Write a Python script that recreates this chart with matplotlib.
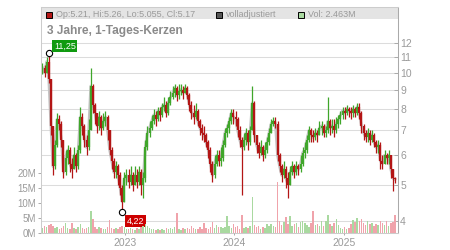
import numpy as np
import pandas as pd
import matplotlib
matplotlib.use("Agg")
import matplotlib.pyplot as plt
import matplotlib.dates as mdates
from matplotlib.patches import Rectangle
from matplotlib.ticker import NullLocator, FuncFormatter

plt.rcParams['font.family'] = ['Liberation Sans', 'DejaVu Sans']

# ---------------- data (weekly candles) ----------------
week_start = "2022-04-01"
first_open = 10.0

close = [10.3, 10.0, 10.7, 9.6, 7.2, 5.6, 6.4, 7.5, 7.3, 6.6,
         5.4, 5.9, 6.2, 5.7, 5.5, 6.0, 5.6, 6.2, 7.6, 7.2,
         6.6, 6.3, 7.0, 9.2, 8.2, 7.8, 7.2, 7.6, 7.1, 7.4,
         7.6, 7.0, 6.2, 5.8, 5.4, 5.6, 5.3, 4.9, 4.5, 5.2,
         5.3, 5.1, 5.3, 5.0, 5.3, 5.1, 5.4, 5.0, 5.2, 6.3,
         6.9, 7.1, 7.4, 7.7, 7.5, 7.9, 7.7, 8.1, 8.2, 7.8,
         8.3, 8.6, 8.8, 9.1, 8.7, 8.9, 9.0, 8.8, 9.1, 8.7,
         8.2, 7.8, 7.6, 7.9, 7.4, 7.1, 6.9, 6.8, 6.5, 6.2,
         5.7, 5.3, 5.7, 6.0, 5.8, 5.9, 6.4, 6.9, 7.1, 7.4,
         7.8, 7.6, 7.5, 7.0, 6.6, 6.3, 6.6, 6.9, 6.5, 7.0,
         8.3, 6.8, 6.4, 6.1, 6.3, 6.0, 6.2, 6.5, 6.9, 7.3,
         7.4, 7.3, 6.0, 5.6, 5.3, 5.5, 5.2, 5.0, 5.4, 5.6,
         5.4, 5.6, 5.5, 5.7, 6.1, 6.2, 6.6, 7.0, 6.8, 6.7,
         6.9, 6.8, 7.1, 7.2, 6.9, 7.0, 7.4, 7.1, 7.2, 7.0,
         7.3, 7.5, 7.7, 7.9, 7.8, 8.0, 7.9, 7.8, 8.0, 7.8,
         8.1, 7.8, 7.2, 6.9, 6.7, 6.9, 6.6, 6.8, 6.5, 6.3,
         6.4, 5.8, 5.7, 6.0, 5.9, 6.0, 5.5, 5.21, 5.17]

high = [10.6, 10.5, 11.0, 11.25, 9.6, 7.2, 6.6, 7.8, 7.7, 7.4,
        6.6, 6.2, 6.4, 6.3, 5.9, 6.3, 6.1, 6.4, 8.1, 7.8,
        7.3, 6.8, 7.5, 10.3, 9.3, 8.3, 7.8, 7.9, 7.7, 7.8,
        7.9, 7.7, 7.0, 6.3, 5.9, 5.8, 5.7, 5.4, 5.0, 5.4,
        5.5, 5.5, 5.6, 5.4, 5.6, 5.5, 5.6, 5.5, 5.4, 6.6,
        7.2, 7.4, 7.7, 8.0, 7.9, 8.1, 8.1, 8.3, 8.6, 8.4,
        8.6, 8.9, 9.2, 9.3, 9.2, 9.3, 9.3, 9.2, 9.3, 9.2,
        8.8, 8.4, 8.2, 8.3, 8.0, 7.5, 7.3, 7.2, 6.9, 6.6,
        6.3, 5.8, 6.0, 6.2, 6.2, 6.3, 6.6, 7.1, 7.3, 7.6,
        8.0, 8.0, 7.9, 7.6, 7.2, 6.7, 6.9, 7.1, 7.0, 7.2,
        9.2, 8.4, 6.8, 6.5, 6.6, 6.4, 6.5, 6.7, 7.1, 7.5,
        7.6, 7.6, 7.4, 6.1, 5.7, 5.8, 5.6, 5.4, 5.6, 5.8,
        5.7, 5.8, 5.7, 6.0, 6.3, 6.5, 6.8, 7.2, 7.1, 7.0,
        7.1, 7.0, 7.4, 7.4, 7.3, 7.2, 8.6, 7.5, 7.5, 7.5,
        7.6, 7.7, 7.9, 8.1, 8.1, 8.2, 8.1, 8.1, 8.2, 8.1,
        8.3, 8.3, 7.9, 7.3, 7.0, 7.1, 7.0, 7.0, 6.9, 6.6,
        6.6, 6.5, 6.0, 6.2, 6.1, 6.2, 6.0, 5.5, 5.26]

low = [9.9, 9.7, 10.0, 9.4, 6.8, 5.3, 5.5, 6.3, 7.0, 6.3,
       5.2, 5.3, 5.7, 5.4, 5.2, 5.5, 5.4, 5.5, 6.1, 6.8,
       6.3, 6.0, 6.2, 7.0, 7.8, 7.3, 6.9, 7.0, 6.8, 7.0,
       7.2, 6.6, 6.0, 5.5, 5.2, 5.2, 5.0, 4.7, 4.22, 4.5,
       5.0, 4.9, 5.0, 4.8, 5.0, 4.9, 5.0, 4.7, 4.6, 5.1,
       6.2, 6.7, 7.0, 7.3, 7.2, 7.4, 7.4, 7.6, 7.9, 7.6,
       7.7, 8.2, 8.5, 8.6, 8.4, 8.5, 8.7, 8.5, 8.8, 8.5,
       7.9, 7.5, 7.3, 7.5, 7.2, 6.8, 6.6, 6.5, 6.3, 5.9,
       5.4, 5.1, 5.2, 5.6, 5.6, 5.6, 5.8, 6.3, 6.7, 6.9,
       7.3, 7.3, 7.2, 6.7, 6.3, 4.7, 6.2, 6.4, 6.2, 6.4,
       7.0, 6.5, 6.1, 5.9, 6.0, 5.8, 5.9, 6.1, 6.4, 6.9,
       7.2, 7.1, 5.8, 5.4, 5.1, 5.2, 4.9, 4.6, 5.0, 5.3,
       5.2, 5.3, 5.3, 5.4, 5.6, 5.9, 6.1, 6.5, 6.5, 6.5,
       6.6, 6.5, 6.8, 6.8, 6.7, 6.7, 6.9, 6.8, 6.9, 6.7,
       6.9, 7.1, 7.3, 7.5, 7.5, 7.7, 7.6, 7.5, 7.6, 7.6,
       7.7, 7.5, 6.9, 6.6, 6.5, 6.5, 6.4, 6.5, 6.3, 6.1,
       6.1, 5.5, 5.5, 5.7, 5.7, 5.7, 5.2, 4.8, 5.055]

volume_m = [1.5, 2.2, 1.8, 2.6, 3.0, 2.4, 1.6, 2.0, 1.4, 1.7,
            2.3, 3.4, 1.5, 1.2, 3.3, 1.6, 1.3, 1.9, 2.8, 1.5,
            1.2, 1.6, 1.8, 7.3, 4.5, 1.8, 1.3, 1.9, 1.5, 1.1,
            1.4, 2.0, 4.4, 1.7, 1.3, 1.5, 1.2, 1.8, 2.4, 2.0,
            1.4, 1.1, 1.6, 1.3, 1.0, 1.5, 1.2, 1.9, 2.3, 3.0,
            2.2, 1.5, 1.1, 1.4, 0.9, 1.3, 1.0, 1.2, 0.8, 1.5,
            1.1, 1.6, 1.3, 1.8, 6.7, 1.4, 1.0, 1.5, 1.2, 1.7,
            1.3, 2.2, 1.6, 1.4, 1.1, 1.9, 1.3, 3.3, 1.5, 1.2,
            1.8, 3.7, 1.6, 2.5, 2.0, 2.0, 1.5, 1.8, 5.5, 2.2,
            1.5, 3.0, 1.9, 2.4, 1.4, 5.8, 1.6, 2.0, 1.5, 2.3,
            12.0, 2.6, 1.8, 2.2, 1.4, 1.9, 1.6, 2.8, 2.1, 3.0,
            2.4, 1.9, 17.0, 4.0, 2.6, 3.5, 5.3, 3.0, 5.5, 2.4,
            2.8, 3.2, 2.0, 3.6, 4.0, 3.1, 2.5, 1.8, 3.4, 7.2,
            2.6, 3.0, 2.1, 3.8, 2.4, 4.0, 6.0, 2.9, 2.2, 3.3,
            4.5, 2.5, 1.5, 1.3, 1.8, 1.2, 1.6, 3.0, 4.2, 3.5,
            4.9, 3.8, 4.5, 3.2, 2.6, 3.9, 2.8, 3.4, 2.2, 3.0,
            2.5, 4.0, 3.3, 2.6, 3.8, 2.4, 3.1, 3.6, 6.0]

last_open, last_high, last_low, last_close = 5.21, 5.26, 5.055, 5.17
last_volume = "2.463M"
price_ticks = [4, 5, 6, 7, 8, 9, 10, 11, 12]
vol_ticks = [0, 5, 10, 15, 20]
year_ticks = ["2023-01-01", "2024-01-01", "2025-01-01"]
year_labels = ["2023", "2024", "2025"]
title_text = "3 Jahre, 1-Tages-Kerzen"
legend_adj = "volladjustiert"

# ---------------- styling ----------------
W, H = 450, 250
UP, DOWN = "#3fa62a", "#b31515"
VUP, VDOWN = "#a9d9a0", "#f0a3ab"
GRID = "#dcdcdc"
TXT = "#9a9a9a"

dates = pd.date_range(week_start, periods=len(close), freq="7D")
opens = [first_open] + close[:-1]
opens[-1] = last_open
cand_col = [UP if c >= o else DOWN for o, c in zip(opens, close)]
prev = [first_open] + close[:-1]
vol_col = [VUP if c >= p else VDOWN for p, c in zip(prev, close)]

fig = plt.figure(figsize=(W / 100, H / 100), dpi=100)
fig.patch.set_facecolor("white")

x0, x1, ytop, ybot = 41, 397.7, 7, 232.7
axv = fig.add_axes([x0 / W, 1 - ybot / H, (x1 - x0) / W, (ybot - ytop) / H])
axp = axv.twinx()
axv.set_zorder(2)
axp.set_zorder(1)
axv.patch.set_visible(False)
axp.patch.set_visible(False)

# price axis (log)
axp.set_yscale("log")
axp.set_ylim(4 * 3 ** ((221 - ybot) / 178), 4 * 3 ** ((221 - ytop) / 178))
axp.set_xlim(mdates.date2num(pd.Timestamp("2022-03-27")),
             mdates.date2num(pd.Timestamp("2025-06-29")))
axp.set_axisbelow("line")

# legend bar background
yb = (ybot - 19) / (ybot - ytop)
axp.add_patch(Rectangle((0, yb), 1, 1 - yb, transform=axp.transAxes,
                        facecolor="#e4e4e4", edgecolor="none", zorder=1))

axp.plot(dates, close, color="#c4c4c4", lw=2.0, zorder=1.8,
         solid_joinstyle="round")
axp.vlines(dates, low, high, colors=cand_col, lw=0.9, zorder=2)
axp.vlines(dates, opens, close, colors=cand_col, lw=1.6, zorder=2.1)

# max / min annotations
imax = int(np.argmax(high))
imin = int(np.argmin(low))
for i, val, off, fc in [(imax, high[imax], (16, 7.5), "#109a10"),
                        (imin, low[imin], (13.5, -8.7), "#cc0000")]:
    axp.plot(dates[i], val, "o", mfc="white", mec="black", ms=4.5, mew=0.8,
             zorder=4)
    axp.annotate(f"{val:.2f}".replace(".", ","), xy=(dates[i], val),
                 xytext=off, textcoords="offset pixels", ha="center",
                 va="center", color="white", fontsize=6.5, zorder=5,
                 bbox=dict(boxstyle="square,pad=0.18", fc=fc, ec="none"))

axp.yaxis.set_major_locator(matplotlib.ticker.FixedLocator(price_ticks))
axp.yaxis.set_minor_locator(NullLocator())
axp.yaxis.set_major_formatter(FuncFormatter(lambda v, p: f"{v:g}"))
axp.tick_params(axis="y", which="major", direction="in", length=3,
                width=0.7, color="#aaaaaa", labelcolor=TXT, labelsize=7.5,
                pad=1.8)
axp.grid(True, axis="both", color=GRID, lw=0.75)
axp.tick_params(axis="x", bottom=False, labelbottom=False)

# volume axis
axv.bar(dates, volume_m, width=5, color=vol_col, linewidth=0, zorder=1)
axv.set_ylim(0, (ybot - ytop) / 3.0)
axv.set_yticks(vol_ticks)
axv.set_yticklabels([f"{v}M" for v in vol_ticks])
axv.tick_params(axis="y", direction="out", length=2.5, width=0.7,
                color="#aaaaaa", labelcolor=TXT, labelsize=7, pad=0.8)
axv.set_xticks([mdates.date2num(pd.Timestamp(d)) for d in year_ticks])
axv.set_xticklabels(year_labels)
axv.tick_params(axis="x", direction="out", length=1.5, width=0.7,
                color="#aaaaaa", labelcolor=TXT, labelsize=7.5, pad=2.0)

for s in ["top", "right", "bottom"]:
    axv.spines[s].set_visible(False)
axv.spines["left"].set_color("#cccccc")
axv.spines["left"].set_linewidth(0.75)
axp.spines["left"].set_visible(False)
axp.spines["right"].set_color("#aaaaaa")
axp.spines["right"].set_linewidth(0.75)
for s in ["top", "bottom"]:
    axp.spines[s].set_color("#cccccc")
    axp.spines[s].set_linewidth(0.75)

# title and legend texts (figure pixel coordinates)
fig.text(46.7 / W, 1 - 34.3 / H, title_text, fontsize=8.6, fontweight="bold",
         color="#8a8a8a", ha="left", va="baseline")
legend_items = [
    (46, DOWN, f"Op:{last_open}, Hi:{last_high}, Lo:{last_low}, Cl:{last_close}"),
    (216, "#555555", legend_adj),
    (297.7, "#a9d9a0", f"Vol: {last_volume}"),
]
for lx, col, txt in legend_items:
    fig.patches.append(Rectangle((lx / W, 1 - 17.5 / H), 6 / W, 6 / H,
                                 transform=fig.transFigure, facecolor=col,
                                 edgecolor="black", linewidth=0.7))
    fig.text((lx + 10) / W, 1 - 14.7 / H, txt, fontsize=6.5, color=TXT,
             ha="left", va="center")

fig.savefig("out.png", dpi=100)
